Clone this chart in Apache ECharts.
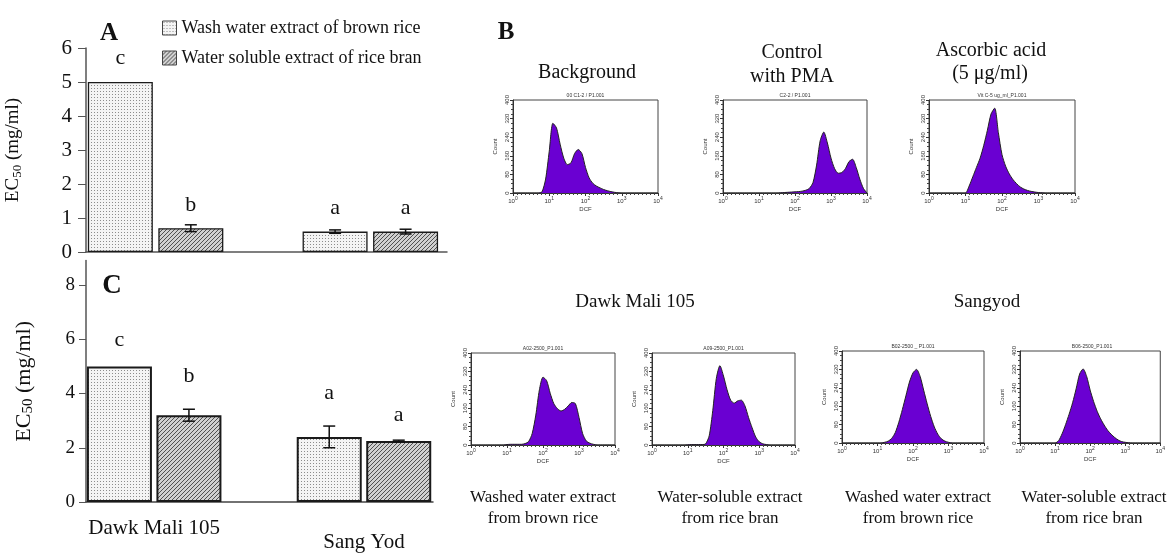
<!DOCTYPE html>
<html>
<head>
<meta charset="utf-8">
<script src="https://cdn.jsdelivr.net/npm/echarts@6/dist/echarts.min.js"></script>
<style>
  html, body { margin: 0; background: #fff; }
  #chart { width: 1168px; height: 553px; }
</style>
</head>
<body>
<div id="chart"></div>
<script>
// ---- bar panels (EC50, mg/ml) ----
const varieties = ['Dawk Mali 105', 'Sang Yod'];
const extractNames = ['Wash water extract of brown rice', 'Water soluble extract of rice bran'];

const aWash = [5.0, 0.6];
const aWashSd = [0, 0.05];
const aWashLetters = ['c', 'a'];
const aBran = [0.7, 0.6];
const aBranSd = [0.1, 0.07];
const aBranLetters = ['b', 'a'];

const cWash = [5.0, 2.4];
const cWashSd = [0, 0.4];
const cWashLetters = ['c', 'a'];
const cBran = [3.2, 2.25];
const cBranSd = [0.22, 0.03];
const cBranLetters = ['b', 'a'];

// ---- flow cytometry histograms: log10(DCF) bins and counts ----
const dcfLog = [0, 0.1, 0.2, 0.3, 0.4, 0.5, 0.6, 0.7, 0.8, 0.9, 1, 1.1, 1.2, 1.3, 1.4, 1.5, 1.6, 1.7, 1.8, 1.9, 2,
  2.1, 2.2, 2.3, 2.4, 2.5, 2.6, 2.7, 2.8, 2.9, 3, 3.1, 3.2, 3.3, 3.4, 3.5, 3.6, 3.7, 3.8, 3.9, 4];
const background = [0, 0, 0, 0, 0, 0, 0, 0, 5, 60, 180, 300, 280, 210, 150, 122, 130, 170, 187, 170, 110,
  65, 42, 30, 22, 15, 10, 6, 3, 1, 0, 0, 0, 0, 0, 0, 0, 0, 0, 0, 0];
const controlPma = [0, 0, 0, 0, 0, 0, 0, 0, 0, 0, 0, 0, 0, 0, 0, 0, 1, 2, 3, 4, 5,
  6, 8, 12, 20, 45, 120, 225, 262, 215, 150, 105, 85, 88, 105, 135, 145, 110, 60, 20, 0];
const ascorbic = [0, 0, 0, 0, 0, 0, 0, 0, 0, 0, 0, 30, 70, 110, 150, 205, 270, 340, 365, 260, 165,
  115, 82, 58, 40, 26, 17, 11, 7, 4, 2, 1, 0, 0, 0, 0, 0, 0, 0, 0, 0];
const dmWash = [0, 0, 0, 0, 0, 0, 0, 0, 0, 0, 2, 3, 3, 3, 3, 6, 15, 50, 130, 240, 295,
  280, 225, 180, 158, 148, 155, 170, 185, 180, 120, 50, 18, 8, 3, 0, 0, 0, 0, 0, 0];
const dmBran = [0, 0, 0, 0, 0, 0, 0, 0, 0, 0, 1, 2, 2, 2, 2, 5, 40, 150, 290, 345, 300,
  240, 195, 182, 192, 195, 170, 120, 75, 35, 14, 5, 2, 0, 0, 0, 0, 0, 0, 0, 0];
const syWash = [0, 0, 0, 0, 0, 0, 0, 0, 0, 0, 0, 0, 3, 8, 20, 45, 90, 145, 205, 265, 305,
  320, 290, 230, 170, 115, 70, 38, 18, 8, 3, 0, 0, 0, 0, 0, 0, 0, 0, 0, 0];
const syBran = [0, 0, 0, 0, 0, 0, 0, 0, 0, 0, 0, 10, 40, 80, 125, 175, 235, 300, 322, 290, 230,
  180, 138, 105, 78, 55, 38, 24, 13, 6, 3, 1, 0, 0, 0, 0, 0, 0, 0, 0, 0];

const serif = 'Liberation Serif';
const sans = 'Liberation Sans';

function dotPattern() {
  const c = document.createElement('canvas');
  c.width = 3; c.height = 3;
  const ctx = c.getContext('2d');
  ctx.fillStyle = '#f4f4f4'; ctx.fillRect(0, 0, 3, 3);
  ctx.fillStyle = '#8c8c8c'; ctx.fillRect(1, 1, 1, 1);
  return c;
}
function hatchPattern() {
  const c = document.createElement('canvas');
  c.width = 4; c.height = 4;
  const ctx = c.getContext('2d');
  ctx.fillStyle = '#d0d0d0'; ctx.fillRect(0, 0, 4, 4);
  ctx.fillStyle = '#505050';
  for (let i = 0; i < 4; i++) ctx.fillRect(i, 3 - i, 1, 1);
  return c;
}
const dotFill = { image: dotPattern(), repeat: 'repeat' };
const hatchFill = { image: hatchPattern(), repeat: 'repeat' };

const barW = 65;

function errRender(offset, capW, lw) {
  return function (params, api) {
    const sd = api.value(2);
    if (!sd) return null;
    const hi = api.coord([api.value(0), api.value(1) + sd]);
    const lo = api.coord([api.value(0), api.value(1) - sd]);
    const x = hi[0] + offset;
    const st = { stroke: '#111', lineWidth: lw };
    return {
      type: 'group',
      children: [
        { type: 'line', shape: { x1: x, y1: hi[1], x2: x, y2: lo[1] }, style: st },
        { type: 'line', shape: { x1: x - capW, y1: hi[1], x2: x + capW, y2: hi[1] }, style: st },
        { type: 'line', shape: { x1: x - capW, y1: lo[1], x2: x + capW, y2: lo[1] }, style: st }
      ]
    };
  };
}

function barPair(gi, wash, washSd, washL, bran, branSd, branL, gapPx, washGaps, branGaps, bw) {
  const half = (barW + gapPx) / 2;
  const lbl = (letters) => ({
    show: true, position: 'top', fontFamily: serif, fontSize: 22, color: '#111',
    formatter: (p) => letters[p.dataIndex]
  });
  const mk = (name, vals, letters, gaps, fill) => ({
    name: name, type: 'bar', xAxisIndex: gi, yAxisIndex: gi,
    barWidth: barW, barGap: (gapPx / barW * 100) + '%',
    itemStyle: { color: fill, borderColor: '#1a1a1a', borderWidth: bw },
    label: lbl(letters),
    data: vals.map((v, i) => ({ value: [i, v], label: { distance: gaps[i] } }))
  });
  const err = (vals, sds, off) => ({
    type: 'custom', xAxisIndex: gi, yAxisIndex: gi, z: 5, silent: true,
    renderItem: errRender(off, 6, 1.5),
    data: vals.map((v, i) => [i, v, sds[i]])
  });
  return [
    mk(extractNames[0], wash, washL, washGaps, dotFill),
    mk(extractNames[1], bran, branL, branGaps, hatchFill),
    err(wash, washSd, -half),
    err(bran, branSd, half)
  ];
}

const ecName = (fs) => ({
  name: '{n|EC}{s|50}{n| (mg/ml)}',
  nameLocation: 'middle',
  nameRotate: 90,
  nameTextStyle: {
    rich: {
      n: { fontFamily: serif, fontSize: fs, color: '#111' },
      s: { fontFamily: serif, fontSize: Math.round(fs * 0.68), color: '#111', padding: [9, 0, 0, 0] }
    }
  }
});

// histogram panels
const hists = [
  { data: background, tag: '00 C1-2 / P1.001', left: 513, top: 100, width: 145, height: 93 },
  { data: controlPma, tag: 'C2-2 / P1.001', left: 723, top: 100, width: 144, height: 93 },
  { data: ascorbic, tag: 'Vit C-5 ug_ml_P1.001', left: 929, top: 100, width: 146, height: 93 },
  { data: dmWash, tag: 'A02-2500_P1.001', left: 471, top: 353, width: 144, height: 92 },
  { data: dmBran, tag: 'A09-2500_P1.001', left: 652, top: 353, width: 143, height: 92 },
  { data: syWash, tag: 'B02-2500 _ P1.001', left: 842, top: 351, width: 142, height: 92 },
  { data: syBran, tag: 'B06-2500_P1.001', left: 1020, top: 351, width: 144, height: 92 }
];

const grids = [
  { left: 86, top: 48, width: 361, height: 204 },
  { left: 86, top: 260.6, width: 347, height: 241.4 }
];
const xAxes = [
  {
    gridIndex: 0, type: 'value', min: -0.324, max: 1.357,
    axisLine: { onZero: false, lineStyle: { color: '#555', width: 1.5 } },
    axisTick: { show: false }, axisLabel: { show: false }, splitLine: { show: false }
  },
  {
    gridIndex: 1, type: 'value', min: -0.325, max: 1.329,
    axisLine: { onZero: false, lineStyle: { color: '#444', width: 1.5 } },
    axisTick: { show: false }, splitLine: { show: false },
    axisLabel: {
      customValues: [0, 1], margin: 16,
      formatter: (v) => (v === 0 ? '{a|' + varieties[0] + '}' : '{b|' + varieties[1] + '}'),
      rich: {
        a: { fontFamily: serif, fontSize: 21, color: '#111' },
        b: { fontFamily: serif, fontSize: 21, color: '#111', padding: [14, 0, 0, 0] }
      }
    }
  }
];
const yAxes = [
  Object.assign(ecName(19), {
    gridIndex: 0, type: 'value', min: 0, max: 6, interval: 1, nameGap: 62,
    axisLine: { show: true, onZero: false, lineStyle: { color: '#555', width: 1.5 } },
    axisTick: { show: true, length: 8, lineStyle: { color: '#555' } },
    axisLabel: { fontFamily: serif, fontSize: 21, color: '#111', margin: 14 },
    splitLine: { show: false }
  }),
  Object.assign(ecName(22), {
    gridIndex: 1, type: 'value', min: 0, max: 8.9, nameGap: 50,
    axisLine: { show: true, onZero: false, lineStyle: { color: '#555', width: 1.5 } },
    axisTick: { show: true, length: 7, customValues: [0, 2, 4, 6, 8], lineStyle: { color: '#555' } },
    axisLabel: { customValues: [0, 2, 4, 6, 8], fontFamily: serif, fontSize: 19, color: '#111', margin: 11 },
    splitLine: { show: false }
  })
];

let series = []
  .concat(barPair(0, aWash, aWashSd, aWashLetters, aBran, aBranSd, aBranLetters, 5.5, [13, 12.5], [12, 12.5], 1.3))
  .concat(barPair(1, cWash, cWashSd, cWashLetters, cBran, cBranSd, cBranLetters, 4.5, [15, 33], [28, 15], 2));

const graphics = [];
const txt = (x, y, text, font, fill) => graphics.push({
  type: 'text', x: x, y: y,
  style: { text: text, font: font, fill: fill || '#111', textAlign: 'center', verticalAlign: 'middle' }
});

hists.forEach((h) => {
  const gi = grids.length;
  grids.push({ left: h.left, top: h.top, width: h.width, height: h.height, show: true, borderColor: '#444', borderWidth: 1 });
  xAxes.push({
    gridIndex: gi, type: 'value', min: 0, max: 4, interval: 1,
    name: 'DCF', nameLocation: 'middle', nameGap: 13, nameTextStyle: { fontFamily: sans, fontSize: 6, color: '#333' },
    axisLine: { onZero: false, lineStyle: { color: '#333' } },
    axisTick: { length: 3, lineStyle: { color: '#333' } },
    minorTick: { show: true, splitNumber: 9, length: 2, lineStyle: { color: '#444' } },
    splitLine: { show: false },
    axisLabel: {
      margin: 3,
      formatter: (v) => '{b|10}{s|' + v + '}',
      rich: { b: { fontFamily: sans, fontSize: 6, color: '#333' }, s: { fontFamily: sans, fontSize: 5, color: '#333', padding: [0, 0, 5, 0] } }
    }
  });
  yAxes.push({
    gridIndex: gi, type: 'value', min: 0, max: 400, interval: 80,
    name: 'Count', nameLocation: 'middle', nameGap: 15, nameRotate: 90,
    nameTextStyle: { fontFamily: sans, fontSize: 6, color: '#333' },
    axisLine: { show: true, onZero: false, lineStyle: { color: '#333' } },
    axisTick: { show: true, length: 3, lineStyle: { color: '#333' } },
    minorTick: { show: true, splitNumber: 4, length: 2, lineStyle: { color: '#444' } },
    splitLine: { show: false },
    axisLabel: { rotate: 90, margin: 3, fontFamily: sans, fontSize: 6, color: '#333' }
  });
  series.push({
    type: 'line', xAxisIndex: gi, yAxisIndex: gi, showSymbol: false, smooth: 0.25, silent: true,
    lineStyle: { color: '#222', width: 1 },
    areaStyle: { color: '#6a00d2', opacity: 1 },
    data: h.data.map((c, i) => [dcfLog[i], c])
  });
  txt(h.left + h.width / 2, h.top - 4, h.tag, '5px ' + sans, '#333');
});

// panel letters and titles
txt(109, 34, 'A', 'bold 25px ' + serif);
txt(506, 33, 'B', 'bold 25px ' + serif);
txt(112, 286, 'C', 'bold 27px ' + serif);
txt(587, 73, 'Background', '20px ' + serif);
txt(792, 53, 'Control', '20px ' + serif);
txt(792, 77, 'with PMA', '20px ' + serif);
txt(991, 51, 'Ascorbic acid', '20px ' + serif);
txt(990, 74, '(5 \u03bcg/ml)', '20px ' + serif);
txt(635, 302, 'Dawk Mali 105', '19px ' + serif);
txt(987, 302, 'Sangyod', '19px ' + serif);
[[543, 'Washed water extract', 'from brown rice'], [730, 'Water-soluble extract', 'from rice bran'],
 [918, 'Washed water extract', 'from brown rice'], [1094, 'Water-soluble extract', 'from rice bran']]
  .forEach((c) => { txt(c[0], 498, c[1], '17px ' + serif); txt(c[0], 519, c[2], '17px ' + serif); });

const chart = echarts.init(document.getElementById('chart'), null, { renderer: 'canvas' });
chart.setOption({
  animation: false,
  backgroundColor: '#fff',
  legend: {
    data: extractNames, orient: 'vertical', left: 157, top: 14,
    itemWidth: 14, itemHeight: 14, itemGap: 12, icon: 'rect',
    itemStyle: { borderColor: '#444', borderWidth: 1 },
    textStyle: { fontFamily: serif, fontSize: 18, color: '#111' }
  },
  grid: grids,
  xAxis: xAxes,
  yAxis: yAxes,
  series: series,
  graphic: graphics
});
</script>
</body>
</html>
